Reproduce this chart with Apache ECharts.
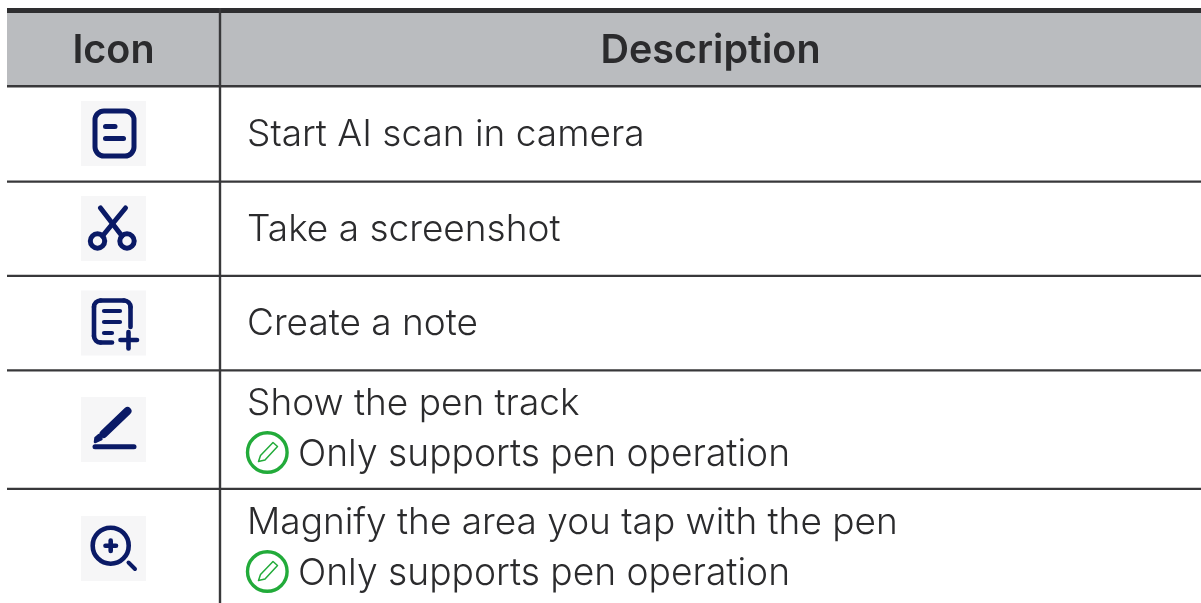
<!DOCTYPE html>
<html><head><meta charset="utf-8">
<style>html,body{margin:0;padding:0;background:#fff}#c{width:1201px;height:603px}</style>
<script src="https://cdn.jsdelivr.net/npm/echarts@6/dist/echarts.min.js"></script></head>
<body><div id="c"></div>
<script>
var headers = ['Icon', 'Description'];
var descriptions = ['Start AI scan in camera', 'Take a screenshot', 'Create a note', 'Show the pen track', 'Magnify the area you tap with the pen'];
var notes = ['', '', '', 'Only supports pen operation', 'Only supports pen operation'];

var FONT = 'Inter, "Open Sans", sans-serif';
var INK = '#2b2b2d', LINE = '#38383a', NAVY = '#0a1a66', GREEN = '#22ab3a';
var g = [];
function rect(x, y, w, h, fill) { g.push({type:'rect', shape:{x:x,y:y,width:w,height:h}, style:{fill:fill}, silent:true}); }
function text(s, x, y, size, weight, align) { g.push({type:'text', x:x, y:y, style:{text:s, fill:INK, font:weight+' '+size+'px '+FONT, textAlign:align||'left', textVerticalAlign:'middle'}, silent:true}); }
function stroke(type, shape, w, color, fill) { g.push({type:type, shape:shape, style:{stroke:color||NAVY, lineWidth:w, fill:fill||'none', lineCap:'round', lineJoin:'round'}, silent:true}); }
function path(points, w, color, fill) { stroke(fill ? 'polygon':'polyline', {points:points}, w, color, fill); }
function corner(cx, cy, r, a0, a1, w) { stroke('arc', {cx:cx, cy:cy, r:r, startAngle:a0*Math.PI/180, endAngle:a1*Math.PI/180, clockwise:true}, w); }

// table frame
rect(7, 13, 1194, 72, '#babcbf');
rect(7, 8, 1194, 5, '#2e2e30');
rect(7, 85, 1194, 2.4, LINE);
[180.5, 274.8, 369.2, 487.8].forEach(function (y) { rect(7, y, 1194, 2.2, LINE); });
rect(218.8, 8, 2.4, 595, LINE);

// header
text(headers[0], 113.5, 51, 39.5, 600, 'center');
text(headers[1], 710.5, 51, 39.5, 600, 'center');

// icon tiles
[101, 196, 290.5, 397, 516].forEach(function (y) { rect(81, y, 65, 65, '#f6f6f7'); });

// 1 scan
stroke('rect', {x:95,y:111,width:39,height:45,r:9}, 5);
path([[105.5,126.5],[115,126.5]], 5);
path([[105.5,138.5],[123.5,138.5]], 5);
// 2 scissors
stroke('circle', {cx:97.5,cy:241,r:7.2}, 5);
stroke('circle', {cx:127,cy:241,r:7.2}, 5);
path([[100.5,208],[122,236]], 5);
path([[125.5,208],[102.5,236]], 5);
// 3 note
path([[130.5,327],[130.5,307]], 4.6);
corner(124,307,6.5,270,360,4.6);
path([[124,300.5],[100.5,300.5]], 4.6);
corner(100.5,307,6.5,180,270,4.6);
path([[94,307],[94,336]], 4.6);
corner(100.5,336,6.5,90,180,4.6);
path([[100.5,342.5],[112,342.5]], 4.6);
path([[104,311],[120,311]], 4.2);
path([[104,322],[120,322]], 4.2);
path([[104,333],[112,333]], 4.2);
path([[120.5,340],[137,340]], 4.6);
path([[128.5,332],[128.5,348.5]], 4.6);
// 4 pen
path([[127.5,411],[103.5,434]], 8);
path([[95,442],[95.5,438],[99,435],[101.5,439]], 2.5, NAVY, NAVY);
path([[95,446.8],[134,446.8]], 5);
// 5 magnify
stroke('circle', {cx:110.7,cy:545.7,r:18}, 4.6);
path([[105.5,545.7],[116,545.7]], 4.6);
path([[110.7,540.5],[110.7,551]], 4.6);
path([[128.5,562.5],[135,569]], 4);

// descriptions
var rowY = [135, 230, 324, 404, 523];
descriptions.forEach(function (d, i) { text(d, 247, rowY[i], 37, 300); });
var noteY = [0, 0, 0, 455, 574];
var markY = [0, 0, 0, 452.5, 571.5];
notes.forEach(function (n, i) {
  if (!n) return;
  var y = markY[i];
  text(n, 298, noteY[i], 37.2, 300);
  stroke('circle', {cx:267.3,cy:y,r:19.8}, 3.4, GREEN);
  path([[258.5,y+9],[260.5,y+3],[273,y-10],[277.5,y-6],[265,y+7.5],[258.5,y+9]], 1.5, GREEN);
});

var chart = echarts.init(document.getElementById('c'), null, {renderer:'canvas'});
chart.setOption({animation:false, backgroundColor:'#fff', graphic:{elements:g}});
</script></body></html>
